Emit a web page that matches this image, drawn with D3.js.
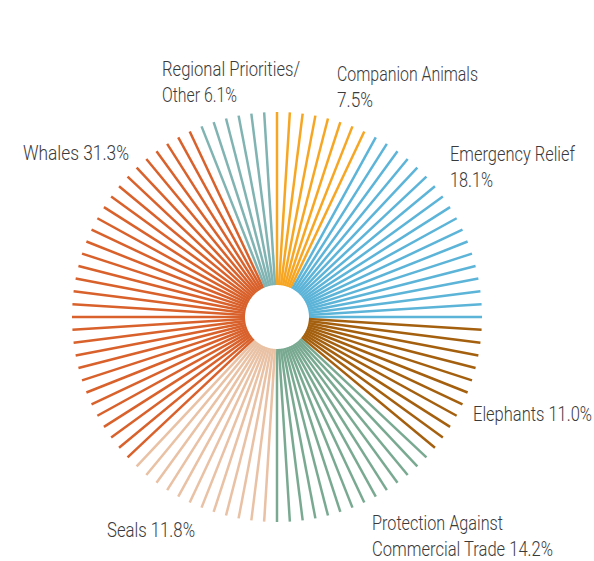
<!DOCTYPE html>
<html>
<head>
<meta charset="utf-8">
<script src="https://cdn.jsdelivr.net/npm/d3@7"></script>
<style>
  body { margin: 0; background: #fff; }
  text { font-family: Roboto, "Liberation Sans", sans-serif; font-weight: 300; fill: #3a3a3a; }
</style>
</head>
<body>
<div id="chart"></div>
<script>
// share of spending, clockwise from 12 o'clock
var categories = ["Companion Animals", "Emergency Relief", "Elephants",
    "Protection Against Commercial Trade", "Seals", "Whales", "Regional Priorities/Other"];
var values = [7.5, 18.1, 11.0, 14.2, 11.8, 31.3, 6.1];
var colors = ["#f6a623", "#5cb4d8", "#a4600e", "#79aa91", "#e9c1a4", "#d9612b", "#80b3b2"];

// label text lines
var labelLines = [
    ["Companion Animals", "7.5%"],
    ["Emergency Relief", "18.1%"],
    ["Elephants 11.0%"],
    ["Protection Against", "Commercial Trade 14.2%"],
    ["Seals 11.8%"],
    ["Whales 31.3%"],
    ["Regional Priorities/", "Other 6.1%"]
];

var width = 594, height = 561;
var cx = 277, cy = 317;
var innerR = 32, outerR = 205;
var nLines = 100;

// label layout: left x, first baseline, width of each line (condensed face)
var labelPos = [[337, 81], [450, 161], [473, 421], [372, 530], [107, 537], [23, 160], [162, 76]];
var labelWidths = [[141, 36], [125, 43], [119], [131, 181], [88], [106], [138, 75]];

var svg = d3.select("#chart")
    .append("svg")
    .attr("width", width)
    .attr("height", height);

// cumulative boundaries -> which category a line belongs to
var cum = d3.cumsum(values);
var color = d3.scaleThreshold()
    .domain(Array.from(cum).slice(0, -1).map(function(c) { return Math.round(c); }))
    .range(colors);

var angle = d3.scaleLinear()
    .domain([0, nLines])
    .range([0, 2 * Math.PI]);

var g = svg.append("g")
    .attr("transform", "translate(" + cx + "," + cy + ")");

g.selectAll("line.ray")
    .data(d3.range(nLines))
    .enter()
    .append("line")
    .attr("class", "ray")
    .attr("x1", function(d) { return innerR * Math.sin(angle(d)); })
    .attr("y1", function(d) { return -innerR * Math.cos(angle(d)); })
    .attr("x2", function(d) { return outerR * Math.sin(angle(d)); })
    .attr("y2", function(d) { return -outerR * Math.cos(angle(d)); })
    .attr("stroke", function(d) { return color(d); })
    .attr("stroke-width", 2.5);

labelLines.forEach(function(lines, i) {
    lines.forEach(function(t, j) {
        svg.append("text")
            .attr("x", labelPos[i][0])
            .attr("y", labelPos[i][1] + j * 25.5)
            .attr("textLength", labelWidths[i][j])
            .attr("lengthAdjust", "spacingAndGlyphs")
            .style("font-size", "19.5px")
            .text(t);
    });
});
</script>
</body>
</html>
